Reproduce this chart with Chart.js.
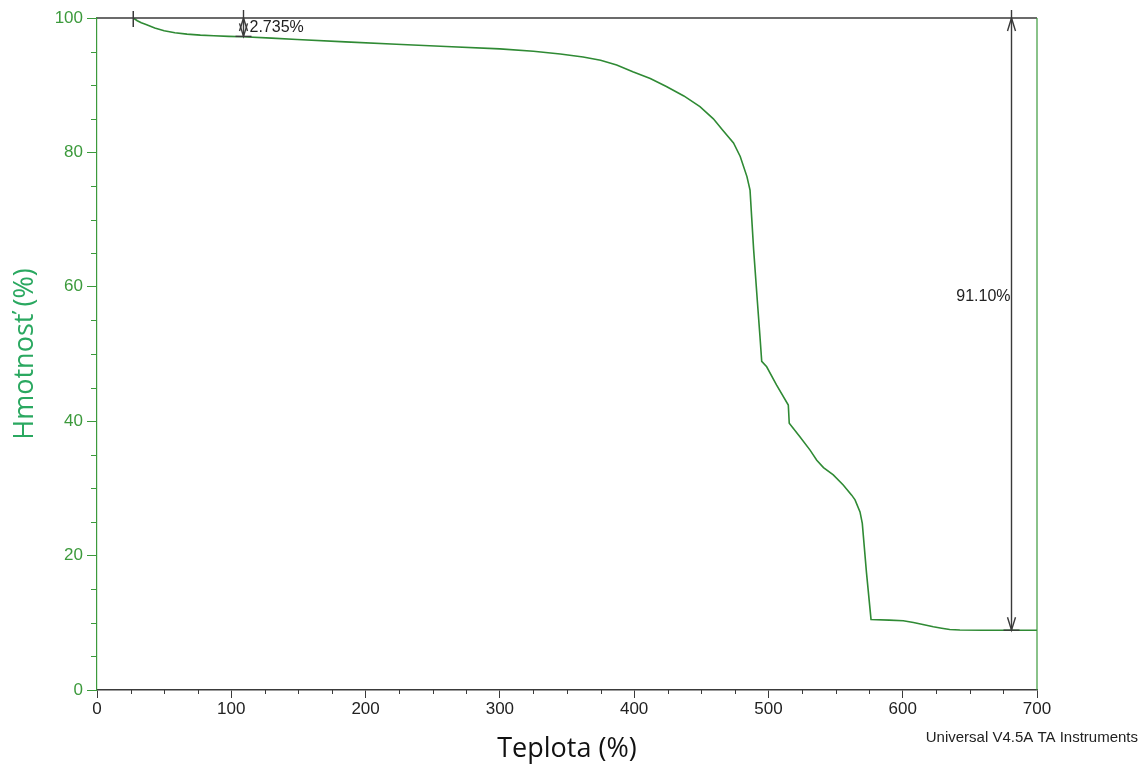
<!DOCTYPE html>
<html>
<head>
<meta charset="utf-8">
<script src="https://cdn.jsdelivr.net/npm/chart.js@4.4.1/dist/chart.umd.min.js"></script>
<style>
  html, body { margin: 0; padding: 0; background: #fff; }
  #wrap { width: 1146px; height: 769px; }
</style>
</head>
<body>
<div id="wrap"><canvas id="TgaChart" width="1146" height="769"></canvas></div>
<script>
(function () {
    "use strict";

    // Data
    const temperature = [27, 30, 33, 37, 43, 50, 58, 67, 77, 87, 98, 109, 130, 149, 185, 223,
        260, 300, 325, 345, 362, 375, 387, 399, 412, 424, 437, 449, 459, 466, 474, 479, 484,
        486.3, 487.5, 489, 491.7, 493.7, 495, 498.7, 506, 514.8, 515.5, 523, 531, 536, 541,
        548.3, 555.7, 562, 564.5, 568.2, 569.9, 573, 576.4, 590, 600.4, 608, 615, 622.8, 629,
        635, 642.6, 660, 700];
    const mass = [100, 99.6, 99.3, 99.0, 98.5, 98.1, 97.8, 97.6, 97.45, 97.35, 97.27, 97.2, 97.0,
        96.8, 96.45, 96.1, 95.75, 95.4, 95.05, 94.65, 94.2, 93.7, 93.0, 92.0, 91.0, 89.8, 88.4, 86.8,
        85.0, 83.3, 81.4, 79.4, 76.4, 74.4, 70.4, 65.5, 58.0, 52.6, 48.9, 48.1, 45.4, 42.4, 39.7,
        37.8, 35.7, 34.2, 33.1, 32.0, 30.5, 29.0, 28.3, 26.5, 24.8, 17.5, 10.5, 10.4, 10.3, 10.05,
        9.75, 9.42, 9.2, 9.0, 8.93, 8.9, 8.9];

    // Step annotations: temperature, mass at the top and at the bottom, label
    const stepStart = [27];
    const stepTemp = [109, 681];
    const stepTop = [100, 100];
    const stepBottom = [97.265, 8.9];
    const stepLabels = ["2.735%", "91.10%"];
    const stepLabelMass = [98.5, 58.6];

    const xTicks = [0, 100, 200, 300, 400, 500, 600, 700];
    const yTicks = [0, 20, 40, 60, 80, 100];

    // Colors
    const curve_green = "#2f8a34";
    const axis_green = "#3c9a3c";
    const title_green = "#2aa860";
    const ink = "#222222";
    const frame_gray = "#3a3a3a";

    const points = temperature.map(function (t, i) {
        return { x: t, y: mass[i] };
    });

    function arrowHead(ctx, x, y, dir) {
        // dir: -1 tip points up, 1 tip points down
        ctx.beginPath();
        ctx.moveTo(x - 4, y - dir * 13);
        ctx.lineTo(x, y);
        ctx.lineTo(x + 4, y - dir * 13);
        ctx.stroke();
    }

    // Frame, minor ticks and step annotations
    const tgaDecor = {
        id: "tgaDecor",
        afterDatasetsDraw: function (chart) {
            const ctx = chart.ctx;
            const xs = chart.scales.x;
            const ys = chart.scales.y;
            const area = chart.chartArea;
            ctx.save();

            // minor ticks
            ctx.lineWidth = 1;
            ctx.strokeStyle = axis_green;
            for (let v = 5; v < 100; v += 5) {
                if (v % 20 === 0) continue;
                const py = Math.round(ys.getPixelForValue(v)) + 0.5;
                ctx.beginPath();
                ctx.moveTo(area.left - 6, py);
                ctx.lineTo(area.left, py);
                ctx.stroke();
            }
            ctx.strokeStyle = frame_gray;
            for (let v = 25; v < 700; v += 25) {
                if (v % 100 === 0) continue;
                const px = Math.round(xs.getPixelForValue(v)) + 0.5;
                ctx.beginPath();
                ctx.moveTo(px, area.bottom);
                ctx.lineTo(px, area.bottom + 4);
                ctx.stroke();
            }

            // top reference line and right border
            ctx.lineWidth = 1.5;
            ctx.strokeStyle = frame_gray;
            ctx.beginPath();
            ctx.moveTo(area.left, ys.getPixelForValue(100));
            ctx.lineTo(area.right, ys.getPixelForValue(100));
            ctx.stroke();
            ctx.strokeStyle = axis_green;
            ctx.lineWidth = 1.2;
            ctx.beginPath();
            ctx.moveTo(xs.getPixelForValue(700), area.top);
            ctx.lineTo(xs.getPixelForValue(700), area.bottom);
            ctx.stroke();

            // start marker
            ctx.strokeStyle = frame_gray;
            ctx.lineWidth = 1.5;
            stepStart.forEach(function (t) {
                const px = xs.getPixelForValue(t);
                const py = ys.getPixelForValue(100);
                ctx.beginPath();
                ctx.moveTo(px, py - 7);
                ctx.lineTo(px, py + 9);
                ctx.stroke();
            });

            // step arrows
            ctx.font = "16px 'Liberation Sans', Arial, sans-serif";
            ctx.fillStyle = ink;
            ctx.textBaseline = "middle";
            stepTemp.forEach(function (t, i) {
                const px = Math.round(xs.getPixelForValue(t)) + 0.5;
                const pTop = ys.getPixelForValue(stepTop[i]);
                const pBot = ys.getPixelForValue(stepBottom[i]);
                ctx.strokeStyle = frame_gray;
                ctx.lineWidth = 1.4;
                ctx.beginPath();
                ctx.moveTo(px, pTop - 8);
                ctx.lineTo(px, pBot);
                ctx.stroke();
                arrowHead(ctx, px, pTop, -1);
                arrowHead(ctx, px, pBot, 1);
                ctx.beginPath();
                ctx.moveTo(px - 8, pBot);
                ctx.lineTo(px + 8, pBot);
                ctx.stroke();
                const ly = ys.getPixelForValue(stepLabelMass[i]);
                if (i === 0) {
                    ctx.textAlign = "left";
                    ctx.fillText(stepLabels[i], px + 6, ly);
                } else {
                    ctx.textAlign = "right";
                    ctx.fillText(stepLabels[i], px - 1, ly);
                }
            });

            // instrument footer
            ctx.font = "15px 'Liberation Sans', Arial, sans-serif";
            ctx.textAlign = "right";
            ctx.fillStyle = ink;
            ctx.fillText("Universal V4.5A TA Instruments", chart.width - 8, 738);
            ctx.restore();
        },
    };

    const myCharts = function () {
        const chart_tga = document.getElementById("TgaChart");
        if (chart_tga != null) {
            const ctx = chart_tga.getContext("2d");
            const TgaChart = new Chart(ctx, {
                type: "line",
                data: {
                    datasets: [
                        {
                            label: "Hmotnosť",
                            data: points,
                            borderColor: curve_green,
                            borderWidth: 1.6,
                            pointRadius: 0,
                            fill: false,
                            tension: 0,
                        },
                    ],
                },
                options: {
                    responsive: false,
                    animation: false,
                    devicePixelRatio: 1,
                    layout: {
                        padding: { top: 18, right: 109, left: 0, bottom: 0 },
                    },
                    plugins: {
                        legend: { display: false },
                        tooltip: { enabled: false },
                    },
                    scales: {
                        x: {
                            type: "linear",
                            min: 0,
                            max: 700,
                            afterBuildTicks: function (scale) {
                                scale.ticks = xTicks.map(function (v) { return { value: v }; });
                            },
                            ticks: {
                                color: ink,
                                font: { family: "'Liberation Sans', Arial, sans-serif", size: 17 },
                                padding: 1,
                                maxRotation: 0,
                            },
                            grid: {
                                drawOnChartArea: false,
                                drawTicks: true,
                                tickLength: 8,
                                color: frame_gray,
                            },
                            border: { display: true, color: frame_gray, width: 1.5 },
                            title: {
                                display: true,
                                text: "Teplota (%)",
                                color: "#111111",
                                font: { family: "'Open Sans', sans-serif", size: 27 },
                                padding: { top: 0, bottom: 3 },
                            },
                            afterFit: function (scale) {
                                scale.height = 79;
                            },
                        },
                        y: {
                            type: "linear",
                            min: 0,
                            max: 100,
                            afterBuildTicks: function (scale) {
                                scale.ticks = yTicks.map(function (v) { return { value: v }; });
                            },
                            ticks: {
                                color: axis_green,
                                font: { family: "'Liberation Sans', Arial, sans-serif", size: 17 },
                                padding: 4,
                            },
                            grid: {
                                drawOnChartArea: false,
                                drawTicks: true,
                                tickLength: 10,
                                color: axis_green,
                            },
                            border: { display: true, color: axis_green, width: 1.2 },
                            title: {
                                display: true,
                                text: "Hmotnosť (%)",
                                color: title_green,
                                font: { family: "'Open Sans', sans-serif", size: 27 },
                                padding: { top: 9, bottom: 0 },
                            },
                            afterFit: function (scale) {
                                scale.width = 97;
                            },
                        },
                    },
                },
                plugins: [tgaDecor],
            });
        }
    };

    myCharts();
})();
</script>
</body>
</html>
